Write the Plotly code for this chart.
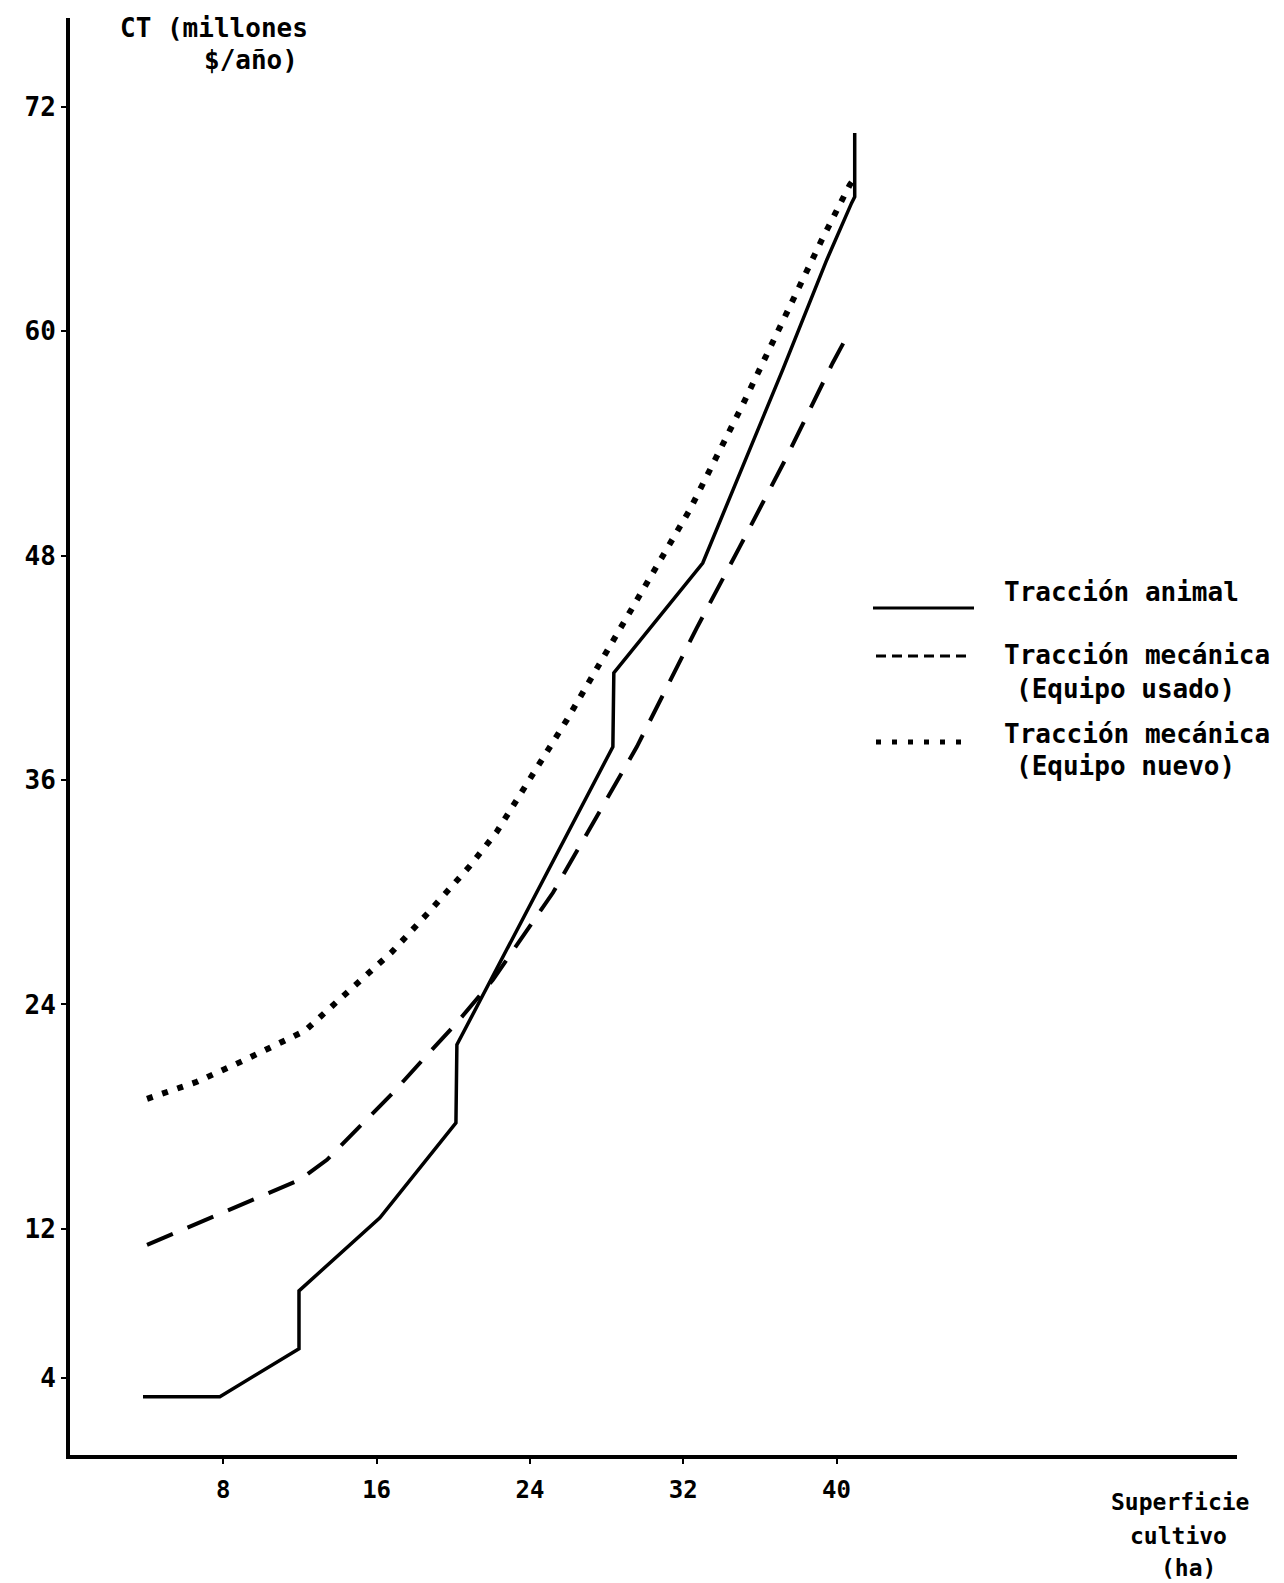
import plotly.graph_objects as go

# ---- data ----
x_ticks = [8, 16, 24, 32, 40]
y_ticks = [4, 12, 24, 36, 48, 60, 72]
y_tick_text = ["4", "12", "24", "36", "48", "60", "72"]

# Tracción animal (solid)
x_animal = [3.81, 7.82, 11.95, 11.95, 16.17, 20.14, 20.19, 28.33, 28.38, 33.02, 37.19, 39.49, 40.79, 40.95, 40.95]
y_animal = [3.02, 3.02, 5.58, 8.68, 12.59, 17.67, 21.84, 37.78, 41.73, 47.61, 57.94, 63.82, 66.87, 67.19, 70.61]

# Tracción mecánica, equipo usado (dashed)
x_usado = [4.02, 9.55, 12.0, 13.41, 14.97, 16.85, 18.41, 20.19, 22.07, 25.2, 29.58, 32.71, 34.95, 37.4, 39.8, 40.64]
y_usado = [11.14, 13.55, 14.62, 15.69, 17.29, 19.27, 21.04, 23.02, 25.32, 29.97, 37.78, 44.14, 48.47, 53.28, 58.31, 59.91]

# Tracción mecánica, equipo nuevo (dotted)
x_nuevo = [4.02, 6.62, 9.02, 10.69, 12.26, 13.46, 14.76, 16.8, 18.78, 20.87, 22.27, 23.73, 25.93, 27.91,
           30.36, 32.34, 35.05, 37.45, 39.23, 40.69, 40.95]
y_nuevo = [18.95, 19.86, 20.98, 21.84, 22.59, 23.71, 24.89, 26.81, 29.0, 31.41, 33.23, 35.64, 39.22, 42.7,
           46.92, 50.45, 55.96, 61.14, 64.89, 67.83, 68.2]

legend_labels = ["Tracción animal", "Tracción mecánica", "(Equipo usado)", "Tracción mecánica", "(Equipo nuevo)"]

FONT = "DejaVu Sans Mono"
W, H = 1284, 1583
L, R, T, B = 70, 47, 18, 128
PW, PH = W - L - R, H - T - B


def px(xp):
    return (xp - L) / PW


def py(yp):
    return (H - B - yp) / PH


fig = go.Figure()
fig.add_trace(go.Scatter(x=x_animal, y=y_animal, mode="lines", name=legend_labels[0],
                         line=dict(color="black", width=3.5)))
fig.add_trace(go.Scatter(x=x_usado, y=y_usado, mode="lines", name="Tracción mecánica (Equipo usado)",
                         line=dict(color="black", width=4, dash="28px,16px")))
fig.add_trace(go.Scatter(x=x_nuevo, y=y_nuevo, mode="lines", name="Tracción mecánica (Equipo nuevo)",
                         line=dict(color="black", width=6, dash="6px,10px")))

shapes = [
    dict(type="line", xref="paper", yref="paper", x0=px(873), x1=px(974), y0=py(608), y1=py(608),
         line=dict(color="black", width=3)),
    dict(type="line", xref="paper", yref="paper", x0=px(876), x1=px(967), y0=py(656), y1=py(656),
         line=dict(color="black", width=3, dash="10px,6px")),
    dict(type="line", xref="paper", yref="paper", x0=px(876), x1=px(962), y0=py(742), y1=py(742),
         line=dict(color="black", width=5, dash="5px,11px")),
]

ann = []


def add_text(text, x, y, size=26, xanchor="left"):
    ann.append(dict(text=text, x=px(x), y=py(y), xref="paper", yref="paper", showarrow=False,
                    xanchor=xanchor, yanchor="middle",
                    font=dict(family=FONT, size=size, color="black", weight="bold")))


add_text("CT (millones", 118, 28)
add_text("$/año)", 202, 60)
add_text(legend_labels[0], 1002, 592)
add_text(legend_labels[1], 1002, 655)
add_text(legend_labels[2], 1014, 689)
add_text(legend_labels[3], 1002, 734)
add_text(legend_labels[4], 1014, 766)
add_text("Superficie", 1180, 1502, size=23, xanchor="center")
add_text("cultivo", 1178, 1536, size=23, xanchor="center")
add_text("(ha)", 1188, 1568, size=23, xanchor="center")

fig.update_layout(
    width=W, height=H,
    margin=dict(l=L, r=R, t=T, b=B, pad=0),
    paper_bgcolor="white", plot_bgcolor="white",
    showlegend=False,
    shapes=shapes, annotations=ann,
    font=dict(family=FONT, color="black"),
)
fig.update_xaxes(range=[0, 60.9], showgrid=False, zeroline=False, showline=True, linewidth=4,
                 linecolor="black", ticks="outside", ticklen=5, tickwidth=1.5, tickcolor="black",
                 tickvals=x_ticks, tickfont=dict(family=FONT, size=24, color="black", weight="bold"),
                 ticklabelstandoff=5)
fig.update_yaxes(range=[-0.1, 76.76], showgrid=False, zeroline=False, showline=True, linewidth=4,
                 linecolor="black", ticks="outside", ticklen=5, tickwidth=1.5, tickcolor="black",
                 tickvals=y_ticks, ticktext=y_tick_text,
                 tickfont=dict(family=FONT, size=26, color="black", weight="bold"), ticklabelstandoff=0)

fig.write_html("out.html", config={"displayModeBar": False},
               post_script="document.body.style.margin='0';")
